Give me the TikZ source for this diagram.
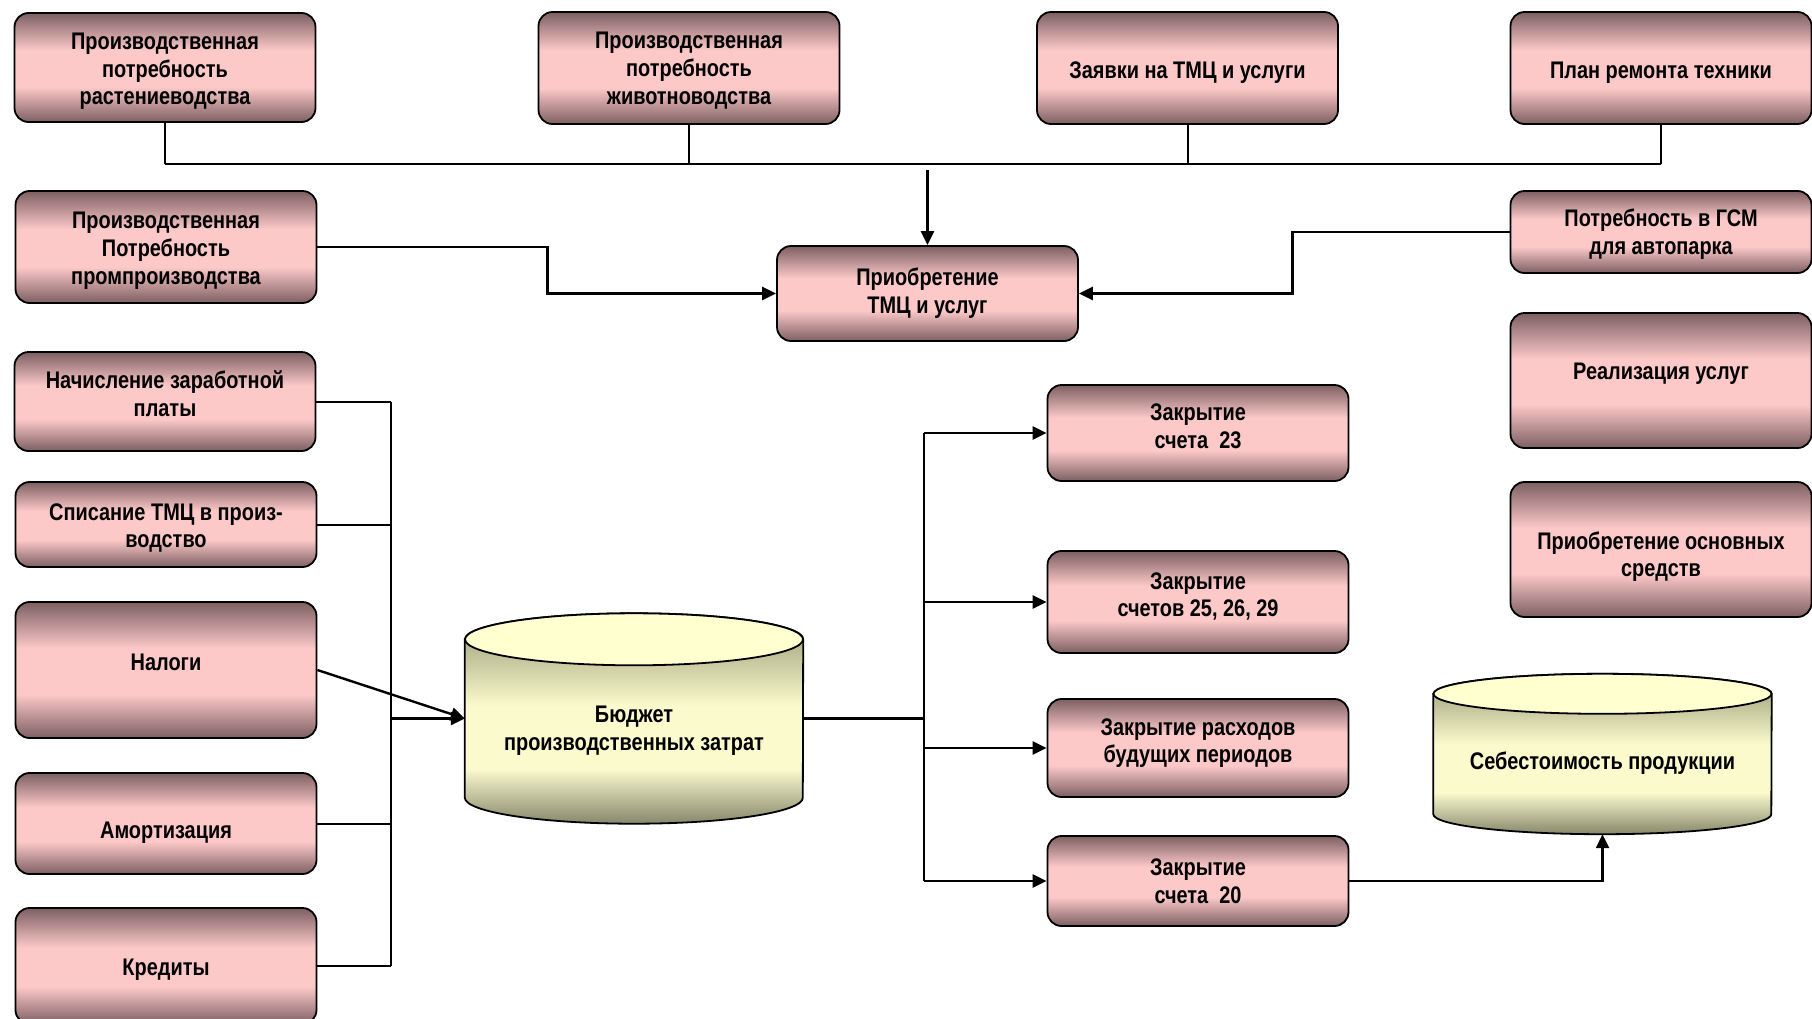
\documentclass[tikz,border=0pt]{standalone}
\usepackage{fontspec}
\setmainfont{Liberation Sans}[FakeStretch=0.83]
\usetikzlibrary{arrows.meta,backgrounds}

\definecolor{boxdark}{RGB}{125,95,98}
\definecolor{boxlight}{RGB}{252,200,200}
\definecolor{cyldark}{RGB}{135,135,108}
\definecolor{cylmid}{RGB}{180,180,142}
\definecolor{cyllight}{RGB}{250,250,205}
\definecolor{cyltop}{RGB}{255,255,208}

\pgfdeclareverticalshading{boxshade}{100bp}{color(0bp)=(boxdark); color(25bp)=(boxdark); color(41bp)=(boxlight); color(58bp)=(boxlight); color(75bp)=(boxdark); color(100bp)=(boxdark)}
\pgfdeclareverticalshading{cylshade}{100bp}{color(0bp)=(cyldark); color(25bp)=(cyldark); color(38bp)=(cyllight); color(53bp)=(cyllight); color(68bp)=(cylmid); color(100bp)=(cylmid)}

\newcommand{\dn}[1]{\rule{0pt}{#1pt}}
\newcommand{\up}[1]{\rule[-#1pt]{0pt}{0pt}}

\begin{document}
\begin{tikzpicture}[x=1pt, y=-1pt,
        every node/.style={font=\fontsize{24}{27.7}\selectfont\bfseries, align=center},
        block/.style={draw, line width=1.8pt, rounded corners=14pt, shading=boxshade, minimum width=301pt},
        store/.style={minimum width=338pt},
        link/.style={line width=2pt},
        arr/.style={line width=2.4pt, -{Triangle[length=14pt, width=13pt]}}
    ]
    \useasboundingbox (0,0) rectangle (1812,1018);
    \clip (0,0) rectangle (1812,1018);

    \node[block, minimum height=109pt] (plant) at (165,67.5) {\dn{24}Производственная\\потребность\\растениеводства};
    \node[block, minimum height=112pt] (animal) at (689,68) {\dn{22}Производственная\\потребность\\животноводства};
    \node[block, minimum height=112pt] (orders) at (1187.5,68) {\dn{26}Заявки на ТМЦ и услуги};
    \node[block, minimum height=112pt] (repair) at (1661,68) {\dn{26}План ремонта техники};
    \node[block, minimum height=112pt] (industry) at (166,247) {\dn{24}Производственная\\Потребность\\промпроизводства};
    \node[block, minimum height=95pt] (purchase) at (927.5,293.5) {Приобретение\\ТМЦ и услуг};
    \node[block, minimum height=82pt] (fuel) at (1661,232) {\dn{22}Потребность в ГСМ\\для автопарка};
    \node[block, minimum height=135pt] (services) at (1661,380.5) {Реализация услуг\up{18}};
    \node[block, minimum height=135pt] (assets) at (1661,549.5) {\dn{32}Приобретение основных\\средств};

    \node[block, minimum height=99pt] (wages) at (165,401.5) {Начисление заработной\\платы\up{16}};
    \node[block, minimum height=85pt] (writeoff) at (166,524.5) {\dn{24}Списание ТМЦ в произ-\\водство};
    \node[block, minimum height=136pt] (taxes) at (166,670) {Налоги\up{16}};
    \node[block, minimum height=101pt] (amort) at (166,823.5) {\dn{34}Амортизация};
    \node[block, minimum height=116pt] (credits) at (166,966) {\dn{24}Кредиты};

    \node[store, minimum height=210pt] (budget) at (634,718.5) {\dn{41}Бюджет\\производственных затрат};
    \node[store, minimum height=160pt] (cost) at (1602.5,754) {\dn{35}Себестоимость продукции};

    \node[block, minimum height=96pt] (acc23) at (1198,433) {Закрытие\\счета~~23\up{14}};
    \node[block, minimum height=102pt] (acc25) at (1198,602) {Закрытие\\счетов 25, 26, 29\up{15}};
    \node[block, minimum height=98pt] (deferred) at (1198,748) {Закрытие расходов\\будущих периодов\up{15}};
    \node[block, minimum height=90pt] (acc20) at (1198,881) {Закрытие\\счета~~20};

    \begin{scope}[on background layer]
        \foreach \c/\r in {budget/26, cost/20} {
            \shade[shading=cylshade, draw, line width=1.8pt]
                ([yshift=-\r pt]\c.north west) -- ([yshift=\r pt]\c.south west)
                arc[start angle=180, end angle=360, x radius=169pt, y radius=\r pt]
                -- ([yshift=-\r pt]\c.north east)
                arc[start angle=0, end angle=180, x radius=169pt, y radius=\r pt] -- cycle;
            \filldraw[fill=cyltop, line width=1.8pt] ([yshift=-\r pt]\c.north) ellipse[x radius=169pt, y radius=\r pt];
        }
    \end{scope}

    \coordinate (bus) at (927.5,164);
    \coordinate (lbus) at (391,718.5);
    \coordinate (rbus) at (924,718.5);

    \draw[link] (plant.south |- bus) -- (repair.south |- bus);
    \foreach \n in {plant, animal, orders, repair}
        \draw[link] (\n.south) -- (\n.south |- bus);
    \draw[arr] ([yshift=-6pt]bus) -- (purchase.north);
    \draw[arr] (industry.east) -- ++(230,0) |- (purchase.west);
    \draw[arr] (fuel.west) -- ++(-217,0) |- (purchase.east);

    \draw[link] (wages.east -| lbus) -- (credits.east -| lbus);
    \foreach \n in {wages, writeoff, amort, credits}
        \draw[link] (\n.east) -- (\n.east -| lbus);
    \draw[arr] (lbus) -- (budget.west);
    \draw[arr] (taxes.east) -- (budget.west);

    \draw[line width=2.4pt] (budget.east) -- (rbus);
    \draw[link] (acc23.west -| rbus) -- (acc20.west -| rbus);
    \foreach \n in {acc23, acc25, deferred, acc20}
        \draw[arr] (\n.west -| rbus) -- (\n.west);
    \draw[arr] (acc20.east) -| (cost.south);
\end{tikzpicture}
\end{document}
